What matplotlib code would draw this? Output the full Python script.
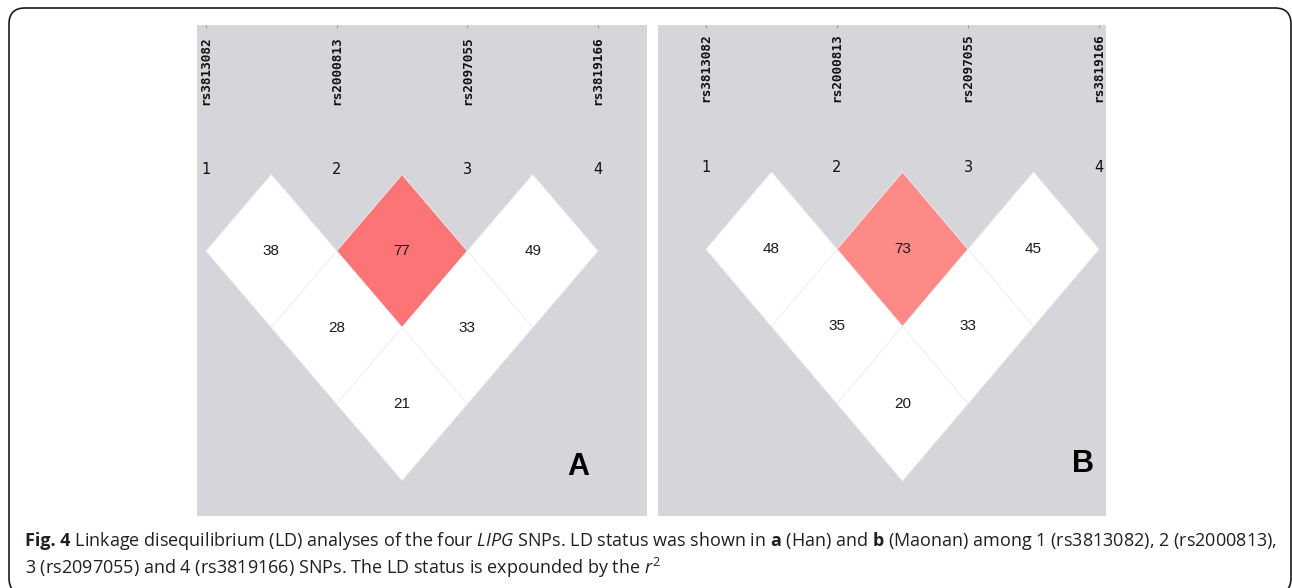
import matplotlib
matplotlib.use("Agg")
import matplotlib.pyplot as plt
from matplotlib.patches import Polygon, FancyBboxPatch

# ---- data ---------------------------------------------------------------
snps = ["rs3813082", "rs2000813", "rs2097055", "rs3819166"]
marker_ids = [1, 2, 3, 4]
pairs = [(1, 2), (2, 3), (3, 4), (1, 3), (2, 4), (1, 4)]
r2_han = [38, 77, 49, 28, 33, 21]
r2_maonan = [48, 73, 45, 35, 33, 20]
panel_letters = ["A", "B"]

# ---- style ----------------------------------------------------------------
W, H = 1292, 588
bg_gray = "#d6d5d9"
strong_ld = {"A": "#fd7476", "B": "#fd8a87"}
highlight_pair = (2, 3)

plt.rcParams["mathtext.fontset"] = "custom"
plt.rcParams["mathtext.rm"] = "Open Sans"
plt.rcParams["mathtext.it"] = "Open Sans:italic"
plt.rcParams["mathtext.bf"] = "Open Sans:bold"

fig = plt.figure(figsize=(W / 100, H / 100), dpi=100)
fig.patch.set_facecolor("white")

# rounded frame around the whole figure (inch units keep corners round)
frame = FancyBboxPatch((9 / 100, (H - 594) / 100), (1291 - 9) / 100, (594 - 8) / 100,
                       boxstyle="round,pad=0,rounding_size=0.16",
                       transform=fig.dpi_scale_trans, facecolor="none",
                       edgecolor="#1a1a1a", linewidth=1.2, clip_on=False)
fig.patches.append(frame)

# panel geometry in pixels: box, first/last marker x, top-vertex y, row height
panels = [
    dict(box=(197, 25, 647, 516), m1=206, m4=598, d0=174.5, unit=76.5,
         name_base=105, num_y=170, values=r2_han, letter_pos=(0.847, 0.100)),
    dict(box=(658, 25, 1106, 516), m1=706, m4=1099, d0=172.0, unit=77.25,
         name_base=102, num_y=168, values=r2_maonan, letter_pos=(0.949, 0.106)),
]

for letter, p in zip(panel_letters, panels):
    x0, y0, x1, y1 = p["box"]
    ax = fig.add_axes([x0 / W, 1 - y1 / H, (x1 - x0) / W, (y1 - y0) / H])
    ax.set_facecolor(bg_gray)
    for s in ax.spines.values():
        s.set_visible(False)
    step = (p["m4"] - p["m1"]) / 3.0
    ax.set_xlim(1 - (p["m1"] - x0) / step, 4 + (x1 - p["m4"]) / step)
    ax.set_ylim((y1 - p["d0"]) / p["unit"], (y0 - p["d0"]) / p["unit"])
    ax.set_xticks(marker_ids)
    ax.set_yticks([])
    ax.tick_params(axis="x", bottom=False, top=True, labelbottom=False,
                   direction="in", length=2, width=0.8, color="#9a9a9a")

    # LD diamonds
    for (i, j), v in zip(pairs, p["values"]):
        cx, cy = (i + j) / 2.0, j - i
        color = strong_ld[letter] if (i, j) == highlight_pair else "white"
        ax.add_patch(Polygon([(cx - 0.5, cy), (cx, cy - 1), (cx + 0.5, cy), (cx, cy + 1)],
                             closed=True, facecolor=color, edgecolor="#efefef",
                             linewidth=0.6))
        ax.text(cx, cy, str(v), ha="center", va="center", fontsize=11,
                family="Liberation Sans", color="#1a1a1a")

    # marker numbers and SNP names
    label_y = (p["name_base"] - p["d0"]) / p["unit"]
    num_y = (p["num_y"] - p["d0"]) / p["unit"]
    for m, name in zip(marker_ids, snps):
        ax.text(m, num_y, str(m), ha="center", va="center", fontsize=10.5,
                family="DejaVu Sans", color="#111111")
        ax.text(m, label_y, name, ha="center", va="bottom", rotation=90,
                fontsize=9.2, family="DejaVu Sans Mono", fontweight="bold",
                color="#111111")

    ax.text(p["letter_pos"][0], p["letter_pos"][1], letter, transform=ax.transAxes,
            ha="center", va="center", fontsize=22, fontweight="bold",
            family="Liberation Sans", color="black")

# ---- caption ------------------------------------------------------------
head = "Fig. 4"
line1 = (r" Linkage disequilibrium (LD) analyses of the four "
         r"$\mathit{LIPG}$ SNPs. LD status was shown in $\mathbf{a}$ (Han) and "
         r"$\mathbf{b}$ (Maonan) among "
         + f"1 ({snps[0]}), 2 ({snps[1]}),")
line2 = (f"3 ({snps[2]}) and 4 ({snps[3]}) SNPs. The LD status is expounded by the "
         + r"$\mathit{r}^{2}$")

cap_kw = dict(ha="left", va="baseline", family="Open Sans", color="#231f20")
cap_x, base1, base2 = 25, 546, 574
renderer = fig.canvas.get_renderer()

t_head = fig.text(cap_x / W, 1 - base1 / H, head, fontsize=11, fontweight="bold", **cap_kw)
t1 = fig.text(cap_x / W, 1 - base1 / H, line1, fontsize=11, **cap_kw)
total = (t_head.get_window_extent(renderer=renderer).width
         + t1.get_window_extent(renderer=renderer).width)
size = 11 * (1277 - cap_x) / total
t_head.set_fontsize(size)
t1.set_fontsize(size)
w_head = t_head.get_window_extent(renderer=renderer).width
t1.set_x((cap_x + w_head) / W)
fig.text(cap_x / W, 1 - base2 / H, line2, fontsize=size, **cap_kw)

fig.savefig("out.png", dpi=100, facecolor="white")
